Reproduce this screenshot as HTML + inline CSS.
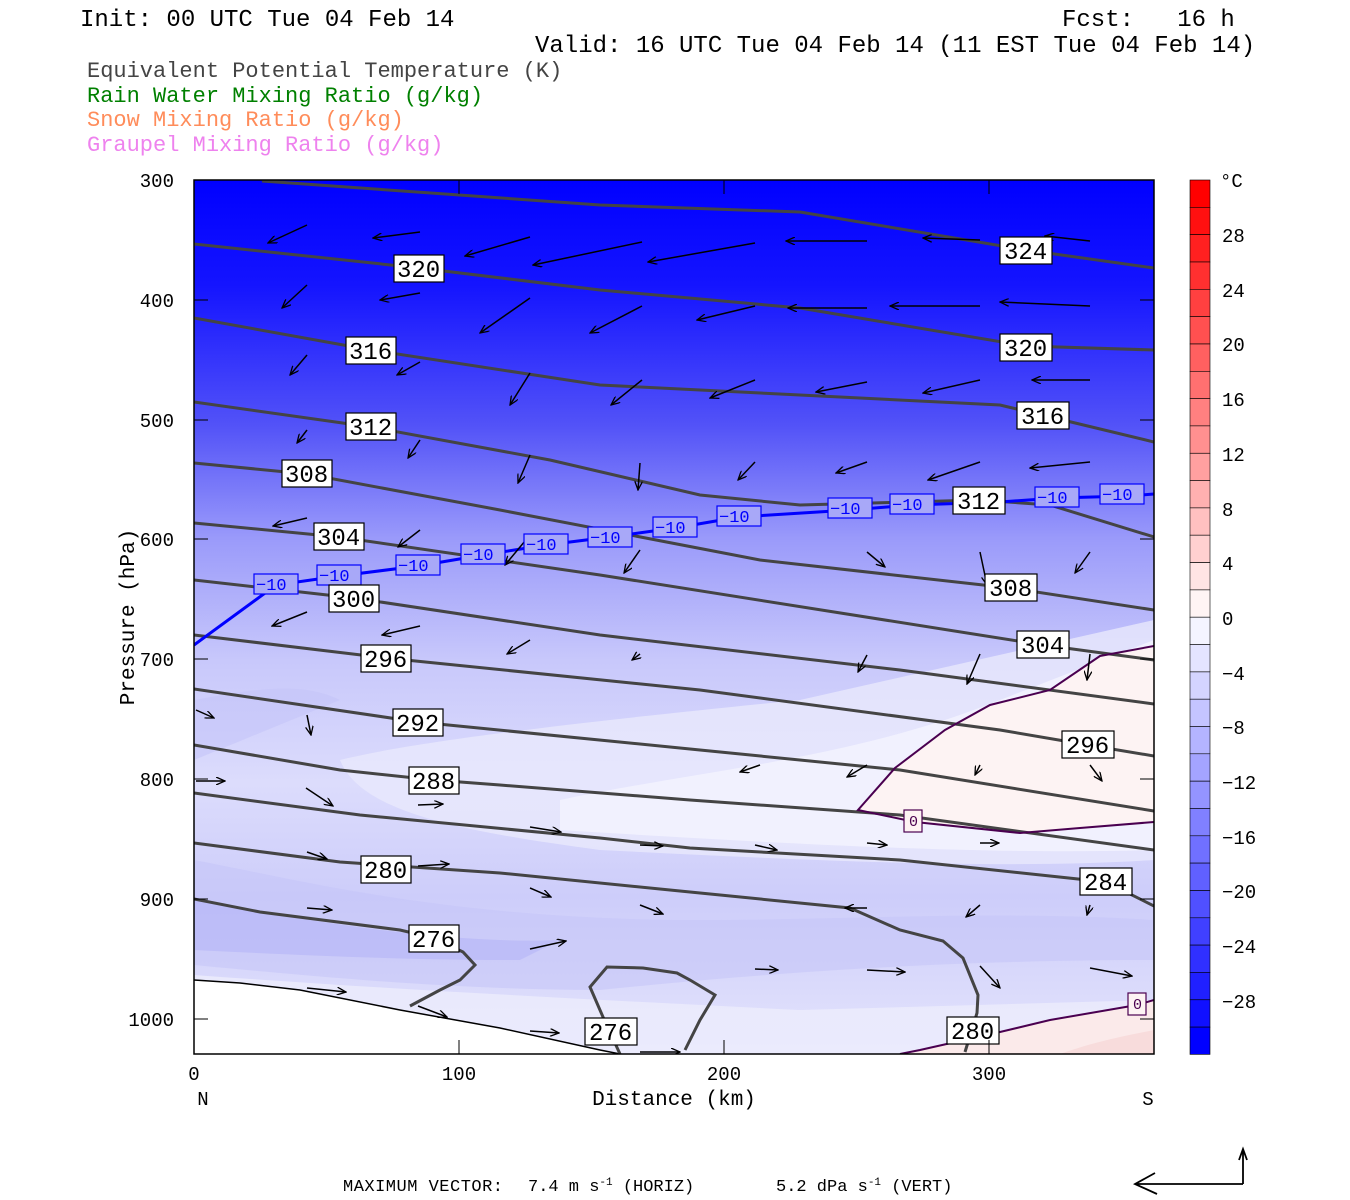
<!DOCTYPE html>
<html><head><meta charset="utf-8"><style>
html,body{margin:0;padding:0;background:#fff;}
svg{display:block;}
text{font-family:"Liberation Mono",monospace;}
</style></head><body>
<svg width="1350" height="1200" viewBox="0 0 1350 1200" xmlns="http://www.w3.org/2000/svg">
<defs>
<linearGradient id="bg" x1="0" y1="180" x2="0" y2="1054" gradientUnits="userSpaceOnUse">
<stop offset="0" stop-color="#0000ff"/>
<stop offset="0.12" stop-color="#1414ff"/>
<stop offset="0.28" stop-color="#5252f8"/>
<stop offset="0.41" stop-color="#9a9afa"/>
<stop offset="0.55" stop-color="#c8c8fb"/>
<stop offset="0.69" stop-color="#dcdcfc"/>
<stop offset="0.82" stop-color="#cdcdfa"/>
<stop offset="1" stop-color="#e4e4fc"/>
</linearGradient>
<clipPath id="pc"><rect x="194" y="180" width="960" height="874"/></clipPath>
<marker id="ah" markerWidth="10" markerHeight="8" refX="9" refY="4" orient="auto" markerUnits="userSpaceOnUse">
<path d="M0,0 L9,4 L0,8" fill="none" stroke="#000" stroke-width="1.3"/>
</marker>
</defs>

<text x="80" y="26" font-size="24" fill="#000">Init: 00 UTC Tue 04 Feb 14</text>
<text x="1062" y="26" font-size="24" fill="#000" xml:space="preserve">Fcst:   16 h</text>
<text x="535" y="52" font-size="24" fill="#000">Valid: 16 UTC Tue 04 Feb 14 (11 EST Tue 04 Feb 14)</text>
<text x="87" y="77" font-size="22" fill="#444">Equivalent Potential Temperature (K)</text>
<text x="87" y="102" font-size="22" fill="#008000">Rain Water Mixing Ratio (g/kg)</text>
<text x="87" y="126" font-size="22" fill="#ff8c5a">Snow Mixing Ratio (g/kg)</text>
<text x="87" y="151" font-size="22" fill="#ee82ee">Graupel Mixing Ratio (g/kg)</text>

<g clip-path="url(#pc)">
<rect x="194" y="180" width="960" height="874" fill="url(#bg)"/>
<path d="M340,760 C420,740 600,720 800,700 L1154,620 L1154,860 C1000,870 800,860 600,850 C450,830 360,810 340,760 Z" fill="#e8e8fd" opacity="0.8"/>
<path d="M560,800 C700,770 850,760 1000,700 L1154,640 L1154,850 C1000,855 800,845 560,830 Z" fill="#f2f2fe" opacity="0.9"/>
<path d="M194,860 C300,880 450,920 700,920 C850,920 1000,910 1154,920 L1154,960 C900,960 700,980 600,990 C450,990 300,975 194,965 Z" fill="#c4c4f8" opacity="0.55"/>
<path d="M194,900 C300,920 450,945 560,940 L520,960 C400,960 300,955 194,950 Z" fill="#b4b4f6" opacity="0.6"/>
<path d="M194,700 C250,690 300,680 340,700 L194,760 Z" fill="#c4c4f8" opacity="0.6"/>
<path d="M194,975 C400,990 600,1000 800,1010 L1154,1000 L1154,1054 L194,1054 Z" fill="#ececfd" opacity="0.8"/>
<path d="M1154,646 L1100,656 L1050,690 L990,705 L945,730 L895,768 L858,810 L915,822 L1020,833 L1080,828 L1154,822 Z" fill="#fdf3f3"/>
<path d="M1154,1000 L1137,1005 L1050,1020 L1000,1032 L920,1050 L900,1054 L1154,1054 Z" fill="#fbeaea"/>
<path d="M1060,1054 C1100,1040 1130,1035 1154,1030 L1154,1054 Z" fill="#f8dcdc"/>
<path d="M194,980 L240,983 L300,990 L400,1010 L500,1028 L600,1050 L620,1054 L194,1054 Z" fill="#fff"/>
<path d="M194,980 L240,983 L300,990 L400,1010 L500,1028 L600,1050 L620,1054" fill="none" stroke="#000" stroke-width="1.5"/>

<g fill="none" stroke="#444" stroke-width="3">
<path d="M262,181 L600,205 L800,212 L1026,250 L1154,268"/>
<path d="M194,244 L419,268 L600,290 L800,308 L1026,346 L1154,350"/>
<path d="M194,318 L371,350 L600,385 L800,395 L1000,405 L1042,415 L1154,442"/>
<path d="M194,402 L371,427 L550,460 L700,495 L800,505 L979,500 L1050,505 L1154,537"/>
<path d="M194,463 L307,474 L500,510 L760,560 L1010,588 L1154,610"/>
<path d="M194,523 L339,537 L600,575 L1043,645 L1154,660"/>
<path d="M194,580 L354,598 L600,635 L900,670 L1154,704"/>
<path d="M194,635 L386,658 L700,690 L1000,730 L1088,745 L1154,756"/>
<path d="M194,689 L418,722 L700,750 L900,770 L1154,811"/>
<path d="M194,745 L340,770 L434,780 L500,785 L690,800 L900,815 L1154,850"/>
<path d="M194,793 L360,815 L600,838 L690,848 L900,860 L1106,882 L1154,906"/>
<path d="M194,843 L340,862 L500,873 L690,892 L850,908 L900,930 L943,941 L963,958 L978,995 L977,1013 L965,1052"/>
<path d="M194,899 L260,912 L400,930 L434,938 L463,952 L475,965 L460,980 L440,990 L410,1006"/>
<path d="M620,1054 L603,1017 L590,987 L607,967 L643,968 L677,973 L690,980 L715,995 L700,1020 L685,1050"/>
</g>
<g fill="none" stroke="#4a0050" stroke-width="2">
<path d="M1154,646 L1100,656 L1050,690 L990,705 L945,730 L895,768 L858,810 L915,822 L1020,833 L1080,828 L1154,822"/>
<path d="M1154,1000 L1137,1005 L1050,1020 L1000,1032 L920,1050 L900,1054"/>
</g>
<path d="M194,645 L276,585 L339,576 L418,566 L483,555 L546,545 L610,537 L675,528 L739,517 L850,510 L912,505 L1000,502 L1057,498 L1128,496 L1154,494" fill="none" stroke="#0000ff" stroke-width="3"/>

<g stroke="#000" stroke-width="1.5" marker-end="url(#ah)">
<line x1="307" y1="225" x2="268" y2="243"/><line x1="420" y1="232" x2="373" y2="238"/><line x1="530" y1="237" x2="465" y2="256"/><line x1="642" y1="242" x2="533" y2="265"/><line x1="755" y1="243" x2="648" y2="262"/><line x1="867" y1="241" x2="786" y2="241"/><line x1="980" y1="240" x2="923" y2="238"/><line x1="1090" y1="241" x2="1045" y2="236"/>
<line x1="307" y1="285" x2="282" y2="308"/><line x1="420" y1="293" x2="380" y2="300"/><line x1="530" y1="298" x2="480" y2="333"/><line x1="642" y1="306" x2="590" y2="333"/><line x1="755" y1="306" x2="697" y2="320"/><line x1="867" y1="308" x2="788" y2="308"/><line x1="980" y1="306" x2="890" y2="306"/><line x1="1090" y1="306" x2="1000" y2="302"/>
<line x1="307" y1="355" x2="290" y2="375"/><line x1="420" y1="362" x2="397" y2="375"/><line x1="530" y1="373" x2="510" y2="405"/><line x1="642" y1="380" x2="611" y2="405"/><line x1="755" y1="380" x2="710" y2="398"/><line x1="867" y1="382" x2="816" y2="392"/><line x1="980" y1="380" x2="923" y2="393"/><line x1="1090" y1="380" x2="1032" y2="380"/>
<line x1="307" y1="430" x2="297" y2="443"/><line x1="420" y1="440" x2="408" y2="458"/><line x1="530" y1="455" x2="518" y2="483"/><line x1="640" y1="463" x2="638" y2="490"/><line x1="755" y1="462" x2="738" y2="480"/><line x1="867" y1="462" x2="836" y2="473"/><line x1="980" y1="462" x2="928" y2="480"/><line x1="1090" y1="462" x2="1030" y2="468"/>
<line x1="307" y1="518" x2="273" y2="526"/><line x1="420" y1="530" x2="398" y2="547"/><line x1="530" y1="535" x2="505" y2="565"/><line x1="640" y1="550" x2="624" y2="573"/><line x1="867" y1="552" x2="885" y2="567"/><line x1="980" y1="552" x2="987" y2="585"/><line x1="1090" y1="552" x2="1075" y2="573"/>
<line x1="307" y1="612" x2="272" y2="626"/><line x1="420" y1="626" x2="382" y2="635"/><line x1="530" y1="640" x2="507" y2="654"/><line x1="640" y1="654" x2="632" y2="660"/><line x1="867" y1="655" x2="858" y2="672"/><line x1="980" y1="654" x2="967" y2="684"/><line x1="1090" y1="654" x2="1087" y2="680"/>
<line x1="196" y1="710" x2="214" y2="718"/><line x1="307" y1="715" x2="311" y2="735"/><line x1="760" y1="765" x2="740" y2="772"/><line x1="867" y1="765" x2="847" y2="777"/><line x1="980" y1="765" x2="975" y2="775"/><line x1="1090" y1="765" x2="1102" y2="781"/>
<line x1="196" y1="781" x2="225" y2="781"/><line x1="306" y1="788" x2="333" y2="806"/><line x1="418" y1="805" x2="443" y2="804"/><line x1="530" y1="827" x2="561" y2="832"/><line x1="640" y1="845" x2="663" y2="846"/><line x1="755" y1="845" x2="777" y2="850"/><line x1="867" y1="843" x2="887" y2="845"/><line x1="980" y1="843" x2="999" y2="843"/>
<line x1="307" y1="852" x2="327" y2="859"/><line x1="418" y1="866" x2="449" y2="864"/><line x1="530" y1="888" x2="551" y2="897"/><line x1="640" y1="905" x2="663" y2="914"/><line x1="867" y1="908" x2="845" y2="908"/><line x1="980" y1="905" x2="966" y2="917"/><line x1="1090" y1="905" x2="1087" y2="915"/>
<line x1="307" y1="908" x2="332" y2="910"/><line x1="418" y1="932" x2="437" y2="928"/><line x1="530" y1="949" x2="566" y2="941"/><line x1="755" y1="969" x2="778" y2="970"/><line x1="867" y1="970" x2="905" y2="972"/><line x1="980" y1="966" x2="1000" y2="988"/><line x1="1090" y1="968" x2="1132" y2="976"/>
<line x1="307" y1="988" x2="346" y2="992"/><line x1="418" y1="1006" x2="447" y2="1017"/><line x1="530" y1="1031" x2="559" y2="1033"/><line x1="640" y1="1052" x2="680" y2="1052"/>
</g>

<g font-size="17" fill="#0000ff">
<g stroke="#0000ff" stroke-width="1.2" fill="#a8a8f8">
<rect x="254" y="574" width="44" height="20"/><rect x="317" y="565" width="44" height="20"/><rect x="396" y="555" width="44" height="20"/><rect x="461" y="544" width="44" height="20"/><rect x="524" y="534" width="44" height="20"/><rect x="588" y="527" width="44" height="20"/><rect x="653" y="517" width="44" height="20"/><rect x="717" y="506" width="44" height="20"/><rect x="828" y="498" width="44" height="20"/><rect x="890" y="494" width="44" height="20"/><rect x="1035" y="487" width="44" height="20"/><rect x="1100" y="484" width="44" height="20"/>
</g>
<text x="256" y="590">−10</text><text x="319" y="581">−10</text><text x="398" y="571">−10</text><text x="463" y="560">−10</text><text x="526" y="550">−10</text><text x="590" y="543">−10</text><text x="655" y="533">−10</text><text x="719" y="522">−10</text><text x="830" y="514">−10</text><text x="892" y="510">−10</text><text x="1037" y="503">−10</text><text x="1102" y="500">−10</text>
</g>
<g stroke="#4a0050" stroke-width="1.2" fill="#fdf3f3"><rect x="904" y="810" width="18" height="22"/><rect x="1128" y="993" width="18" height="22"/></g>
<g font-size="15" fill="#4a0050"><text x="909" y="826">0</text><text x="1133" y="1009">0</text></g>

<g>
<g fill="#fff" stroke="#000" stroke-width="1.2">
<rect x="394" y="255" width="50" height="27"/><rect x="1000" y="237" width="52" height="27"/>
<rect x="346" y="337" width="50" height="27"/><rect x="1000" y="334" width="52" height="27"/>
<rect x="346" y="413" width="50" height="27"/><rect x="1017" y="402" width="52" height="27"/>
<rect x="282" y="460" width="50" height="27"/><rect x="953" y="487" width="52" height="27"/>
<rect x="314" y="523" width="50" height="27"/><rect x="985" y="574" width="52" height="27"/>
<rect x="329" y="585" width="50" height="27"/><rect x="1017" y="631" width="52" height="27"/>
<rect x="361" y="645" width="50" height="27"/><rect x="1062" y="731" width="52" height="27"/>
<rect x="393" y="709" width="50" height="27"/><rect x="409" y="767" width="50" height="27"/>
<rect x="361" y="856" width="50" height="27"/><rect x="1080" y="868" width="52" height="27"/>
<rect x="409" y="925" width="50" height="27"/><rect x="585" y="1018" width="52" height="27"/>
<rect x="947" y="1017" width="52" height="27"/>
</g>
<g font-size="24" fill="#000">
<text x="397" y="277">320</text><text x="1004" y="259">324</text>
<text x="349" y="359">316</text><text x="1004" y="356">320</text>
<text x="349" y="435">312</text><text x="1021" y="424">316</text>
<text x="285" y="482">308</text><text x="957" y="509">312</text>
<text x="317" y="545">304</text><text x="989" y="596">308</text>
<text x="332" y="607">300</text><text x="1021" y="653">304</text>
<text x="364" y="667">296</text><text x="1066" y="753">296</text>
<text x="396" y="731">292</text><text x="412" y="789">288</text>
<text x="364" y="878">280</text><text x="1084" y="890">284</text>
<text x="412" y="947">276</text><text x="589" y="1040">276</text>
<text x="951" y="1039">280</text>
</g>
</g>
</g>

<rect x="194" y="180" width="960" height="874" fill="none" stroke="#000" stroke-width="1.5"/>
<g stroke="#000" stroke-width="1">
<path d="M194,300h14M194,420h14M194,539h14M194,659h14M194,779h14M194,899h14M194,1019h14M1154,300h-14M1154,420h-14M1154,539h-14M1154,659h-14M1154,779h-14M1154,899h-14M1154,1019h-14"/>
<path d="M459,1054v-14M724,1054v-14M989,1054v-14M459,180v14M724,180v14M989,180v14"/>
</g>
<g font-size="19" fill="#000" text-anchor="end">
<text x="174" y="187">300</text><text x="174" y="307">400</text><text x="174" y="427">500</text><text x="174" y="546">600</text><text x="174" y="666">700</text><text x="174" y="786">800</text><text x="174" y="906">900</text><text x="174" y="1026">1000</text>
</g>
<g font-size="19" fill="#000" text-anchor="middle">
<text x="194" y="1080">0</text><text x="459" y="1080">100</text><text x="724" y="1080">200</text><text x="989" y="1080">300</text>
<text x="203" y="1105">N</text><text x="1148" y="1105">S</text>
<text x="674" y="1105" font-size="21">Distance (km)</text>
</g>
<text transform="translate(134,617) rotate(-90)" font-size="21" text-anchor="middle">Pressure (hPa)</text>

<g stroke="#000" stroke-width="0.6">
<rect x="1190" y="180.0" width="20" height="27.3" fill="#ff0000"/>
<rect x="1190" y="207.3" width="20" height="27.3" fill="#ff1010"/>
<rect x="1190" y="234.7" width="20" height="27.3" fill="#ff2020"/>
<rect x="1190" y="262.0" width="20" height="27.3" fill="#ff3030"/>
<rect x="1190" y="289.3" width="20" height="27.3" fill="#ff4040"/>
<rect x="1190" y="316.6" width="20" height="27.3" fill="#ff5050"/>
<rect x="1190" y="344.0" width="20" height="27.3" fill="#ff6060"/>
<rect x="1190" y="371.3" width="20" height="27.3" fill="#ff7070"/>
<rect x="1190" y="398.6" width="20" height="27.3" fill="#ff8080"/>
<rect x="1190" y="425.9" width="20" height="27.3" fill="#ff9090"/>
<rect x="1190" y="453.3" width="20" height="27.3" fill="#ffa0a0"/>
<rect x="1190" y="480.6" width="20" height="27.3" fill="#ffb0b0"/>
<rect x="1190" y="507.9" width="20" height="27.3" fill="#ffc0c0"/>
<rect x="1190" y="535.2" width="20" height="27.3" fill="#ffd0d0"/>
<rect x="1190" y="562.6" width="20" height="27.3" fill="#ffe4e4"/>
<rect x="1190" y="589.9" width="20" height="27.3" fill="#fff4f4"/>
<rect x="1190" y="617.2" width="20" height="27.3" fill="#f4f4ff"/>
<rect x="1190" y="644.5" width="20" height="27.3" fill="#e4e4ff"/>
<rect x="1190" y="671.9" width="20" height="27.3" fill="#d4d4ff"/>
<rect x="1190" y="699.2" width="20" height="27.3" fill="#c4c4ff"/>
<rect x="1190" y="726.5" width="20" height="27.3" fill="#b4b4ff"/>
<rect x="1190" y="753.8" width="20" height="27.3" fill="#a4a4ff"/>
<rect x="1190" y="781.2" width="20" height="27.3" fill="#9494ff"/>
<rect x="1190" y="808.5" width="20" height="27.3" fill="#8080ff"/>
<rect x="1190" y="835.8" width="20" height="27.3" fill="#7070ff"/>
<rect x="1190" y="863.1" width="20" height="27.3" fill="#6060ff"/>
<rect x="1190" y="890.5" width="20" height="27.3" fill="#5050ff"/>
<rect x="1190" y="917.8" width="20" height="27.3" fill="#4040ff"/>
<rect x="1190" y="945.1" width="20" height="27.3" fill="#3030ff"/>
<rect x="1190" y="972.4" width="20" height="27.3" fill="#2020ff"/>
<rect x="1190" y="999.8" width="20" height="27.3" fill="#1010ff"/>
<rect x="1190" y="1027.1" width="20" height="27.3" fill="#0000ff"/>
</g>
<g font-size="19" fill="#000">
<text x="1220" y="187">°C</text>
<text x="1222" y="242">28</text><text x="1222" y="297">24</text><text x="1222" y="351">20</text><text x="1222" y="406">16</text><text x="1222" y="461">12</text><text x="1222" y="516">8</text><text x="1222" y="570">4</text><text x="1222" y="625">0</text>
<text x="1222" y="680">−4</text><text x="1222" y="734">−8</text><text x="1222" y="789">−12</text><text x="1222" y="844">−16</text><text x="1222" y="898">−20</text><text x="1222" y="953">−24</text><text x="1222" y="1008">−28</text>
</g>

<g font-family="Liberation Serif, serif" font-size="17" fill="#000">
<text x="343" y="1191" textLength="160">MAXIMUM VECTOR:</text>
<text x="528" y="1191">7.4 m s<tspan dy="-6" font-size="11">-1</tspan><tspan dy="6"> (HORIZ)</tspan></text>
<text x="776" y="1191">5.2 dPa s<tspan dy="-6" font-size="11">-1</tspan><tspan dy="6"> (VERT)</tspan></text>
</g>
<g fill="none" stroke="#000" stroke-width="1.8">
<path d="M1243,1184 H1135 M1155,1173 L1135,1184 L1157,1194"/>
<path d="M1243,1184 V1150 M1239,1160 L1243,1149 L1247,1160"/>
</g>
</svg>
</body></html>
